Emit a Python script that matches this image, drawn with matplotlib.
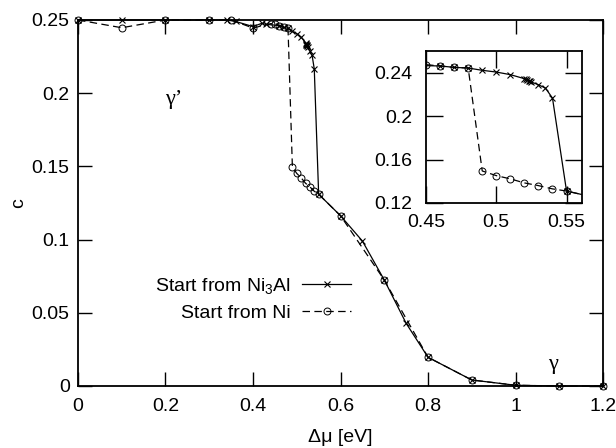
import matplotlib
matplotlib.use("Agg")
import matplotlib.pyplot as plt
from matplotlib.ticker import FixedLocator, FuncFormatter

plt.rcParams['font.family'] = ['Liberation Sans', 'DejaVu Sans']
plt.rcParams['mathtext.default'] = 'regular'

# Start from Ni3Al (crosses, solid)
x_ni3al = [0.0, 0.1, 0.2, 0.3, 0.34, 0.36, 0.40, 0.42, 0.43, 0.46, 0.47, 0.48,
           0.49, 0.50, 0.51, 0.52, 0.521, 0.522, 0.523, 0.524, 0.525, 0.53, 0.535, 0.54,
           0.55, 0.60, 0.65, 0.70, 0.75, 0.80, 0.90, 1.00, 1.10, 1.20]
c_ni3al = [0.250, 0.250, 0.250, 0.250, 0.250, 0.249, 0.2455, 0.2477, 0.247, 0.2462, 0.2449, 0.2443,
           0.2422, 0.2406, 0.2382, 0.2345, 0.2338, 0.2332, 0.2326, 0.2320, 0.2314, 0.2289, 0.2258, 0.2166,
           0.131, 0.1163, 0.099, 0.0724, 0.0428, 0.0196, 0.0041, 0.0005, 0.0, 0.0]

# Start from Ni (circles, dashed)
x_ni = [0.0, 0.1, 0.2, 0.3, 0.35, 0.40, 0.44, 0.45, 0.46, 0.47, 0.48,
        0.49, 0.50, 0.51, 0.52, 0.53, 0.54, 0.55, 0.60, 0.70, 0.80, 0.90, 1.00, 1.10, 1.20]
c_ni = [0.250, 0.2447, 0.250, 0.250, 0.250, 0.2445, 0.2475, 0.2474, 0.2462, 0.2449, 0.2443,
        0.1495, 0.1452, 0.1422, 0.1385, 0.136, 0.133, 0.131, 0.1163, 0.0724, 0.0196, 0.0041, 0.0005, 0.0, 0.0]

main_xticks = [0, 0.2, 0.4, 0.6, 0.8, 1.0, 1.2]
main_yticks = [0, 0.05, 0.1, 0.15, 0.2, 0.25]
inset_xticks = [0.45, 0.5, 0.55]
inset_yticks = [0.12, 0.16, 0.2, 0.24]

FS = 14

fig = plt.figure(figsize=(6.16, 4.48), dpi=100)
ax = fig.add_axes([0.1266, 0.1384, 0.8524, 0.817])

fmt = FuncFormatter(lambda v, p: '%g' % round(v, 4))

def style(a, fs, length, pad):
    a.tick_params(direction='in', length=length, width=1.0, top=True, right=True,
                  labelsize=fs, pad=pad)
    for s in a.spines.values():
        s.set_linewidth(1.3)
    a.xaxis.set_major_formatter(fmt)
    a.yaxis.set_major_formatter(fmt)

kw_x = dict(color='black', linestyle='-', linewidth=0.9, marker='x', markersize=5,
            markeredgewidth=0.8, clip_on=False)
kw_o = dict(color='black', linestyle=(0, (6, 3.5)), linewidth=0.9, marker='o', markersize=5,
            markerfacecolor='none', markeredgewidth=0.7, clip_on=False)

ax.plot(x_ni3al, c_ni3al, label='Start from Ni$_3$Al', **kw_x)
ax.plot(x_ni, c_ni, label='Start from Ni', **kw_o)
ax.set_xlim(0, 1.2)
ax.set_ylim(0, 0.25)
ax.xaxis.set_major_locator(FixedLocator(main_xticks))
ax.yaxis.set_major_locator(FixedLocator(main_yticks))
style(ax, FS, 10, 6)
ax.tick_params(axis='x', pad=9)
ax.set_xlabel('Δμ [eV]', fontsize=FS, labelpad=10)
ax.set_ylabel('c', fontsize=FS, labelpad=3)

ax.text(0.2, 0.196, 'γ’', fontsize=16, family=['Liberation Serif', 'DejaVu Serif'],
        ha='left', va='center')
ax.text(1.075, 0.015, 'γ', fontsize=16, family=['Liberation Serif', 'DejaVu Serif'],
        ha='left', va='center')

leg = ax.legend(loc='upper right', bbox_to_anchor=(0.52, 0.30), frameon=False,
                markerfirst=False, fontsize=FS, handlelength=2.5, labelspacing=0.4,
                borderpad=0, borderaxespad=0, handletextpad=0.6)

ins = fig.add_axes([0.6916, 0.5469, 0.2532, 0.3393])
ins.plot(x_ni3al, c_ni3al, **{**kw_x, 'clip_on': True})
ins.plot(x_ni, c_ni, **{**kw_o, 'clip_on': True})
ins.set_xlim(0.45, 0.561)
ins.set_ylim(0.12, 0.26)
ins.xaxis.set_major_locator(FixedLocator(inset_xticks))
ins.yaxis.set_major_locator(FixedLocator(inset_yticks))
style(ins, FS, 12, 10)
ins.tick_params(axis='x', pad=8)

fig.savefig('out.png', dpi=100)
